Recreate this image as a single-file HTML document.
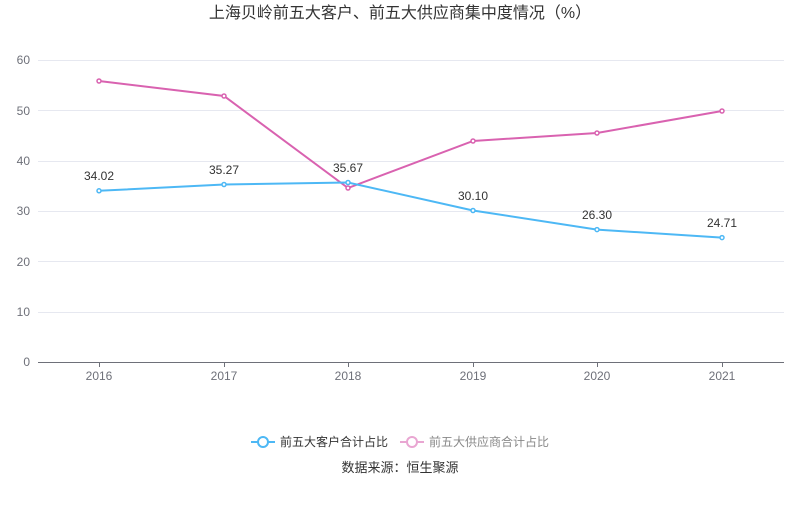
<!DOCTYPE html>
<html><head><meta charset="utf-8"><style>
body{margin:0;background:#fff;width:800px;height:501px;overflow:hidden}
svg{font-family:"Liberation Sans","Noto Sans CJK SC",sans-serif}
</style></head><body>
<svg width="800" height="501" viewBox="0 0 800 501">
<text x="400" y="18" text-anchor="middle" font-size="16" fill="#333">上海贝岭前五大客户、前五大供应商集中度情况（%）</text>
<g stroke="#e6e8f0" stroke-width="1">
<line x1="38" x2="784" y1="60.5" y2="60.5"/>
<line x1="38" x2="784" y1="110.5" y2="110.5"/>
<line x1="38" x2="784" y1="161.5" y2="161.5"/>
<line x1="38" x2="784" y1="211.5" y2="211.5"/>
<line x1="38" x2="784" y1="261.5" y2="261.5"/>
<line x1="38" x2="784" y1="312.5" y2="312.5"/>
</g>
<line x1="38" x2="784" y1="362.5" y2="362.5" stroke="#6e7079"/>
<g stroke="#6e7079">
<line x1="99.5" x2="99.5" y1="362" y2="367"/><line x1="224.5" x2="224.5" y1="362" y2="367"/><line x1="348.5" x2="348.5" y1="362" y2="367"/><line x1="473.5" x2="473.5" y1="362" y2="367"/><line x1="597.5" x2="597.5" y1="362" y2="367"/><line x1="722.5" x2="722.5" y1="362" y2="367"/>
</g>
<g font-size="12" fill="#6e7079" text-anchor="end">
<text x="30" y="64">60</text><text x="30" y="115">50</text><text x="30" y="165">40</text><text x="30" y="215">30</text><text x="30" y="266">20</text><text x="30" y="316">10</text><text x="30" y="366">0</text>
</g>
<g font-size="12" fill="#6e7079" text-anchor="middle">
<text x="99" y="380">2016</text><text x="224" y="380">2017</text><text x="348" y="380">2018</text><text x="473" y="380">2019</text><text x="597" y="380">2020</text><text x="722" y="380">2021</text>
</g>
<polyline fill="none" stroke="#d962b0" stroke-width="2" points="99,81 224,96 348,188 473,141 597,133 722,111"/>
<g fill="#fff" stroke="#d962b0" stroke-width="1.5">
<circle cx="99" cy="81" r="2"/><circle cx="224" cy="96" r="2"/><circle cx="348" cy="188" r="2"/><circle cx="473" cy="141" r="2"/><circle cx="597" cy="133" r="2"/><circle cx="722" cy="111" r="2"/>
</g>
<polyline fill="none" stroke="#4db8f5" stroke-width="2" points="99,190.8 224,184.5 348,182.5 473,210.5 597,229.6 722,237.6"/>
<g fill="#fff" stroke="#4db8f5" stroke-width="1.5">
<circle cx="99" cy="190.8" r="2"/><circle cx="224" cy="184.5" r="2"/><circle cx="348" cy="182.5" r="2"/><circle cx="473" cy="210.5" r="2"/><circle cx="597" cy="229.6" r="2"/><circle cx="722" cy="237.6" r="2"/>
</g>
<g font-size="12" fill="#333" text-anchor="middle">
<text x="99" y="180">34.02</text><text x="224" y="174">35.27</text><text x="348" y="172">35.67</text><text x="473" y="200">30.10</text><text x="597" y="219">26.30</text><text x="722" y="227">24.71</text>
</g>
<line x1="251" x2="275" y1="442" y2="442" stroke="#4db8f5" stroke-width="2"/>
<circle cx="263" cy="442" r="5" fill="#fff" stroke="#4db8f5" stroke-width="2"/>
<text x="280" y="446" font-size="12" fill="#333">前五大客户合计占比</text>
<line x1="400" x2="424" y1="442" y2="442" stroke="#e9a6d2" stroke-width="2"/>
<circle cx="412" cy="442" r="5" fill="#fff" stroke="#e9a6d2" stroke-width="2"/>
<text x="429" y="446" font-size="12" fill="#888">前五大供应商合计占比</text>
<text x="400" y="472" font-size="13" fill="#333" text-anchor="middle">数据来源：恒生聚源</text>
</svg>
</body></html>
